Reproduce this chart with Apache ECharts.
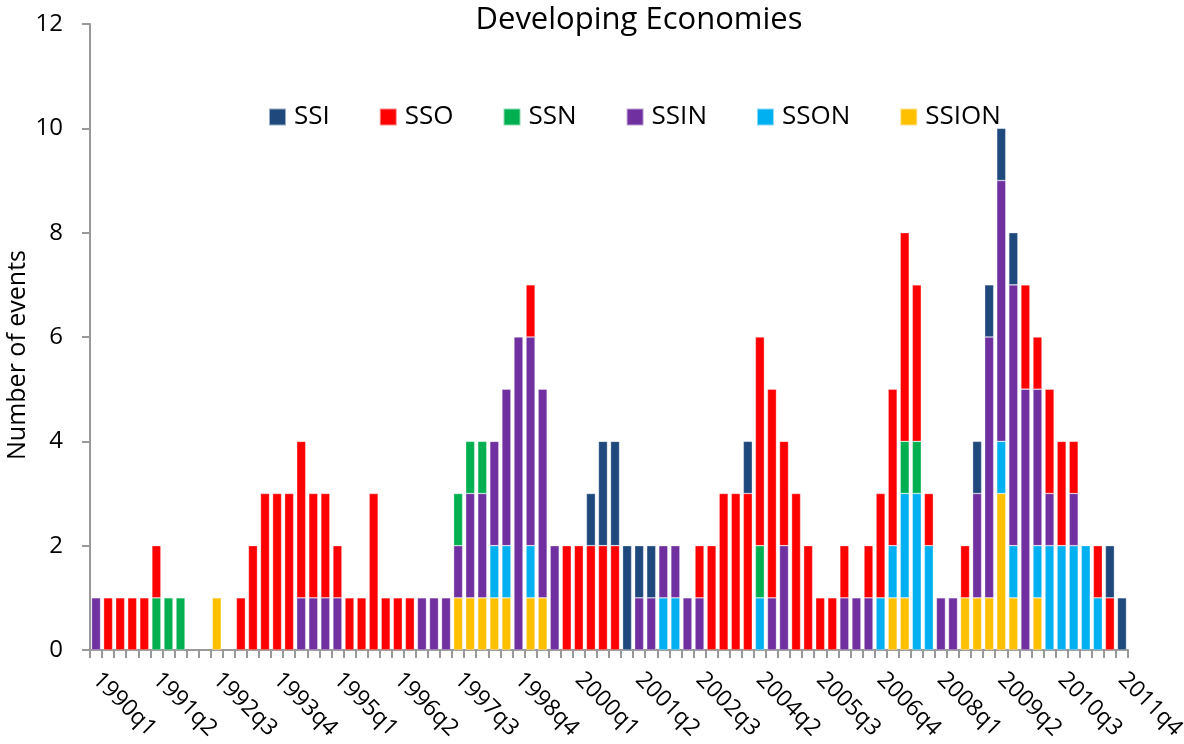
<!DOCTYPE html>
<html>
<head>
<meta charset="utf-8">
<title>Developing Economies</title>
<script src="https://cdn.jsdelivr.net/npm/echarts@6/dist/echarts.min.js"></script>
<style>
  html, body { margin: 0; padding: 0; background: #fff; }
  #chart { width: 1184px; height: 744px; }
</style>
</head>
<body>
<div id="chart"></div>
<script>
// quarters shown on the axis (2003q1, 2003q2 are not in the source series)
const quarters = [
  "1990q1","1990q2","1990q3","1990q4","1991q1","1991q2","1991q3","1991q4",
  "1992q1","1992q2","1992q3","1992q4","1993q1","1993q2","1993q3","1993q4",
  "1994q1","1994q2","1994q3","1994q4","1995q1","1995q2","1995q3","1995q4",
  "1996q1","1996q2","1996q3","1996q4","1997q1","1997q2","1997q3","1997q4",
  "1998q1","1998q2","1998q3","1998q4","1999q1","1999q2","1999q3","1999q4",
  "2000q1","2000q2","2000q3","2000q4","2001q1","2001q2","2001q3","2001q4",
  "2002q1","2002q2","2002q3","2002q4","2003q3","2003q4",
  "2004q1","2004q2","2004q3","2004q4","2005q1","2005q2","2005q3","2005q4",
  "2006q1","2006q2","2006q3","2006q4","2007q1","2007q2","2007q3","2007q4",
  "2008q1","2008q2","2008q3","2008q4","2009q1","2009q2","2009q3","2009q4",
  "2010q1","2010q2","2010q3","2010q4","2011q1","2011q2","2011q3","2011q4"
];

const ssi = [
  0,0,0,0,0,0,0,0,0,0,
  0,0,0,0,0,0,0,0,0,0,
  0,0,0,0,0,0,0,0,0,0,
  0,0,0,0,0,0,0,0,0,0,
  0,1,2,2,2,1,1,0,0,0,
  0,0,0,0,1,0,0,0,0,0,
  0,0,0,0,0,0,0,0,0,0,
  0,0,0,1,1,1,1,0,0,0,
  0,0,0,0,1,1
];
const sso = [
  0,1,1,1,1,1,0,0,0,0,
  0,0,1,2,3,3,3,3,2,2,
  1,1,1,3,1,1,1,0,0,0,
  0,0,0,0,0,0,1,0,0,2,
  2,2,2,2,0,0,0,0,0,0,
  1,2,3,3,3,4,4,2,3,2,
  1,1,1,0,1,2,3,4,3,1,
  0,0,1,0,0,0,0,2,1,2,
  2,1,0,1,1,0
];
const ssn = [
  0,0,0,0,0,1,1,1,0,0,
  0,0,0,0,0,0,0,0,0,0,
  0,0,0,0,0,0,0,0,0,0,
  1,1,1,0,0,0,0,0,0,0,
  0,0,0,0,0,0,0,0,0,0,
  0,0,0,0,0,1,0,0,0,0,
  0,0,0,0,0,0,0,1,1,0,
  0,0,0,0,0,0,0,0,0,0,
  0,0,0,0,0,0
];
const ssin = [
  1,0,0,0,0,0,0,0,0,0,
  0,0,0,0,0,0,0,1,1,1,
  1,0,0,0,0,0,0,1,1,1,
  1,2,2,2,3,6,4,4,2,0,
  0,0,0,0,0,1,1,1,1,1,
  1,0,0,0,0,0,1,2,0,0,
  0,0,1,1,1,0,0,0,0,0,
  1,1,0,2,5,5,5,5,3,1,
  0,1,0,0,0,0
];
const sson = [
  0,0,0,0,0,0,0,0,0,0,
  0,0,0,0,0,0,0,0,0,0,
  0,0,0,0,0,0,0,0,0,0,
  0,0,0,1,1,0,1,0,0,0,
  0,0,0,0,0,0,0,1,1,0,
  0,0,0,0,0,1,0,0,0,0,
  0,0,0,0,0,1,1,2,3,2,
  0,0,0,0,0,1,1,0,1,2,
  2,2,2,1,0,0
];
const ssion = [
  0,0,0,0,0,0,0,0,0,0,
  1,0,0,0,0,0,0,0,0,0,
  0,0,0,0,0,0,0,0,0,0,
  1,1,1,1,1,0,1,1,0,0,
  0,0,0,0,0,0,0,0,0,0,
  0,0,0,0,0,0,0,0,0,0,
  0,0,0,0,0,0,1,1,0,0,
  0,0,1,1,1,3,1,0,1,0,
  0,0,0,0,0,0
];

const yTicks = [0, 2, 4, 6, 8, 10, 12];

const font = "'Open Sans', 'Noto Sans', sans-serif";

// bottom of stack first
const stackDefs = [
  { name: "SSION", data: ssion, color: "#FFC000" },
  { name: "SSON", data: sson, color: "#00B0F0" },
  { name: "SSIN", data: ssin, color: "#7030A0" },
  { name: "SSN", data: ssn, color: "#00B050" },
  { name: "SSO", data: sso, color: "#FF0000" },
  { name: "SSI", data: ssi, color: "#1F497D" }
];

const chart = echarts.init(document.getElementById("chart"), null, { renderer: "canvas" });

chart.setOption({
  animation: false,
  backgroundColor: "#fff",
  textStyle: { fontFamily: font },
  title: {
    text: "Developing Economies",
    left: 634,
    top: 0,
    textAlign: "center",
    textStyle: { fontFamily: font, fontSize: 31, fontWeight: "normal", color: "#000" }
  },
  legend: {
    data: ["SSI", "SSO", "SSN", "SSIN", "SSON", "SSION"],
    left: 263,
    top: 99,
    itemWidth: 17,
    itemHeight: 17,
    itemGap: 49,
    icon: "rect",
    textStyle: { fontFamily: font, fontSize: 26, color: "#000", padding: [0, 0, 0, 3] }
  },
  grid: { left: 90, right: 56, top: 24, bottom: 94, containLabel: false, outerBoundsMode: "none" },
  xAxis: {
    type: "category",
    data: quarters,
    axisLine: { lineStyle: { color: "#999", width: 2 } },
    axisTick: { show: true, interval: 0, length: 8, lineStyle: { color: "#999", width: 2 } },
    axisLabel: {
      interval: 4,
      rotate: -45,
      fontFamily: font,
      fontSize: 23,
      color: "#000",
      margin: 26
    }
  },
  yAxis: {
    type: "value",
    min: 0,
    max: 12,
    interval: 2,
    name: "Number of events",
    nameLocation: "middle",
    nameGap: 60,
    nameMoveOverlap: false,
    nameTextStyle: { fontFamily: font, fontSize: 25, color: "#000", padding: [0, 36, 0, 0] },
    axisLine: { show: true, lineStyle: { color: "#999", width: 2 } },
    axisTick: { show: true, length: 8, lineStyle: { color: "#999", width: 2 } },
    splitLine: { show: false },
    axisLabel: {
      fontFamily: font,
      fontSize: 24,
      color: "#000",
      margin: 27,
      formatter: (v) => (yTicks.includes(v) ? String(v) : "")
    }
  },
  series: stackDefs.map((s) => ({
    name: s.name,
    type: "bar",
    stack: "events",
    barWidth: 9,
    itemStyle: { color: s.color, borderColor: "rgba(255,255,255,0.55)", borderWidth: 0.6 },
    data: s.data.map((v) => (v === 0 ? "-" : v))
  }))
});
</script>
</body>
</html>
